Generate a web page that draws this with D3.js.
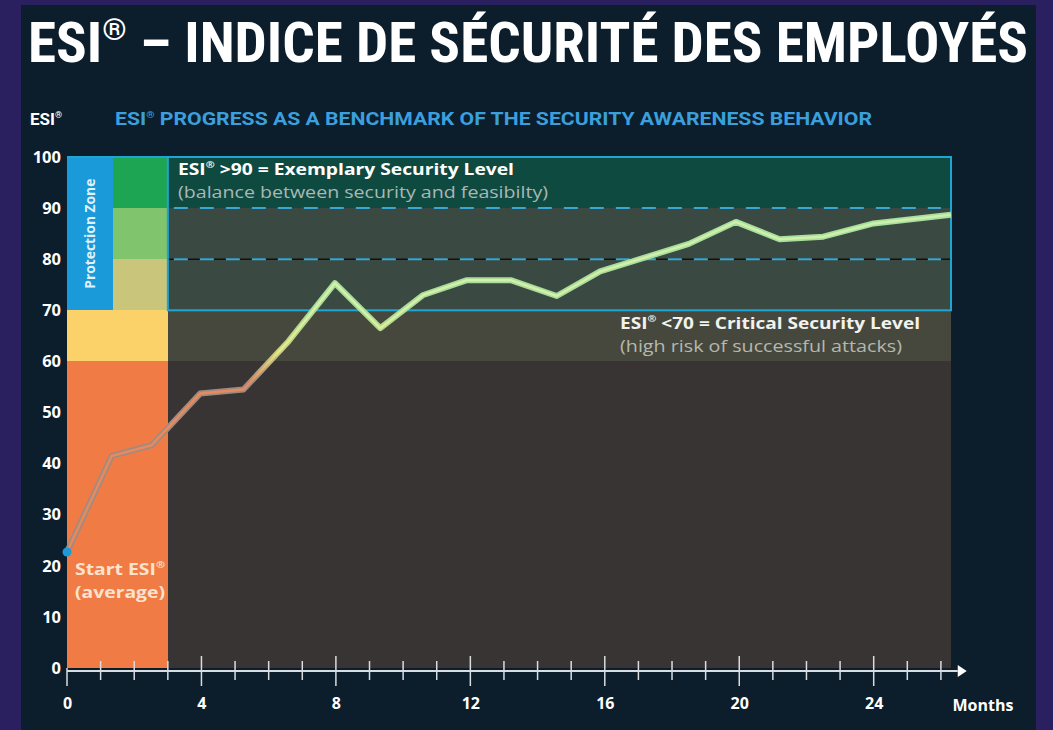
<!DOCTYPE html>
<html><head><meta charset="utf-8">
<script src="https://cdn.jsdelivr.net/npm/d3@7"></script>
<style>html,body{margin:0;padding:0;background:#2a2060;}svg{display:block;}</style>
</head><body>
<script>
// ---- data ----
const months = [0, 1.33, 2.52, 3.96, 5.25, 6.6, 7.97, 9.32, 10.6, 11.9, 13.2, 14.57, 15.86, 18.5, 19.9, 21.2, 22.5, 24.0, 26.3];
const esi    = [22.7, 41.5, 43.6, 53.7, 54.5, 64, 75.3, 66.5, 73, 75.9, 75.9, 72.8, 77.6, 83, 87.3, 83.9, 84.4, 87, 88.7];
const yTicks = [0, 10, 20, 30, 40, 50, 60, 70, 80, 90, 100];
const xTickLabels = [0, 4, 8, 12, 16, 20, 24];
const minorTicks = d3.range(1, 27);
// zones
const zoneX0 = [0, 0, 0, 1.37, 1.37, 1.37, 3, 3, 3, 3];
const zoneX1 = [3, 3, 1.37, 3, 3, 3, 26.3, 26.3, 26.3, 26.3];
const zoneY0 = [0, 60, 70, 90, 80, 70, 90, 70, 60, 0];
const zoneY1 = [60, 70, 100, 100, 90, 80, 100, 90, 70, 60];
const zoneCol = ["#f07b45", "#fbd26a", "#1a9ad9", "#1ea553", "#80c46d", "#c9c67b", "#0f4a41", "#3a4a42", "#46483e", "#393434"];
const title = "ESI® – INDICE DE SÉCURITÉ DES EMPLOYÉS";
const subtitle = "PROGRESS AS A BENCHMARK OF THE SECURITY AWARENESS BEHAVIOR";

const W = 1053, H = 730;
const svg = d3.select("body").append("svg").attr("width", W).attr("height", H);
svg.append("rect").attr("width", W).attr("height", H).attr("fill", "#2a2060");
svg.append("rect").attr("x", 21).attr("y", 5).attr("width", 1015).attr("height", H - 5).attr("fill", "#0c1d2c");

const x = d3.scaleLinear().domain([0, 26.3]).range([67, 951]);
const y = d3.scaleLinear().domain([0, 100]).range([668, 157]);

const font = "'Open Sans', 'Noto Sans', sans-serif";

// title
const t = svg.append("text").attr("x", 28).attr("y", 62)
  .attr("font-family", "'Liberation Sans Narrow', 'Roboto Condensed', Roboto, sans-serif")
  .attr("font-weight", 700).attr("font-size", 55).attr("fill", "#ffffff");
t.append("tspan").text("ESI");
t.append("tspan").attr("font-size", 30).attr("dy", -22).text("®");
t.append("tspan").attr("dy", 22).text(" " + title.split("® ")[1]);
t.attr("textLength", 1000).attr("lengthAdjust", "spacingAndGlyphs");

// subtitle row
const s1 = svg.append("text").attr("x", 30).attr("y", 125)
  .attr("font-family", "'Liberation Sans Narrow', Roboto, sans-serif").attr("font-weight", 700)
  .attr("font-size", 17).attr("fill", "#ffffff");
s1.append("tspan").text("ESI");
s1.append("tspan").attr("font-size", 9).attr("dy", -7).text("®");
const s2 = svg.append("text").attr("x", 115).attr("y", 125)
  .attr("font-family", "'Liberation Sans Narrow', Roboto, sans-serif").attr("font-weight", 700)
  .attr("font-size", 18).attr("fill", "#3b9fdc");
s2.append("tspan").text("ESI");
s2.append("tspan").attr("font-size", 9).attr("dy", -7).text("®");
s2.append("tspan").attr("dy", 7).text(" " + subtitle);
s2.attr("textLength", 757).attr("lengthAdjust", "spacingAndGlyphs");

// zones
const g = svg.append("g");
g.selectAll("rect.zone").data(zoneCol).join("rect").attr("class", "zone")
  .attr("x", (d, i) => x(zoneX0[i])).attr("width", (d, i) => x(zoneX1[i]) - x(zoneX0[i]))
  .attr("y", (d, i) => y(zoneY1[i])).attr("height", (d, i) => y(zoneY0[i]) - y(zoneY1[i]))
  .attr("fill", d => d).attr("shape-rendering", "crispEdges");

// dashed reference lines
g.append("line").attr("x1", x(3)).attr("x2", x(26.3)).attr("y1", y(80)).attr("y2", y(80))
  .attr("stroke", "#111").attr("stroke-width", 1.5);
[90, 80].forEach(v => {
  g.append("line").attr("x1", x(3) + 6).attr("x2", x(26)).attr("y1", y(v)).attr("y2", y(v))
    .attr("stroke", "#3aa6d2").attr("stroke-width", 2).attr("stroke-dasharray", "14,12");
});
// cyan box
g.append("rect").attr("x", x(3)).attr("y", y(100)).attr("width", x(26.3) - x(3)).attr("height", y(70) - y(100))
  .attr("fill", "none").attr("stroke", "#1ea6d2").attr("stroke-width", 2);
g.append("line").attr("x1", x(0)).attr("x2", x(3)).attr("y1", y(100)).attr("y2", y(100))
  .attr("stroke", "#1ea6d2").attr("stroke-width", 2);

// Protection zone label
svg.append("text").attr("transform", `translate(${x(0.68) + 5},${(y(100) + y(70)) / 2}) rotate(-90)`)
  .attr("text-anchor", "middle").attr("font-family", font).attr("font-weight", 700)
  .attr("font-size", 13.5).attr("fill", "#dff1fb").attr("textLength", 110).attr("lengthAdjust", "spacingAndGlyphs")
  .text("Protection Zone");

// annotations
function ann(xp, yp, bold, light, col1, col2, w1, w2) {
  const a = svg.append("text").attr("x", xp).attr("y", yp).attr("font-family", font)
    .attr("font-weight", 700).attr("font-size", 16).attr("fill", col1);
  a.append("tspan").text("ESI");
  a.append("tspan").attr("font-size", 9).attr("dy", -7).text("®");
  a.append("tspan").attr("dy", 7).text(bold);
  a.attr("textLength", w1).attr("lengthAdjust", "spacingAndGlyphs");
  svg.append("text").attr("x", xp).attr("y", yp + 23).attr("font-family", font)
    .attr("font-size", 16).attr("fill", col2).attr("textLength", w2).attr("lengthAdjust", "spacingAndGlyphs").text(light);
}
ann(178, 175, " >90 = Exemplary Security Level", "(balance between security and feasibilty)", "#ffffff", "#a9b8b4", 336, 370);
ann(620, 329, " <70 = Critical Security Level", "(high risk of successful attacks)", "#f2f2ee", "#b5b8ac", 300, 282);

// line gradients
const defs = svg.append("defs");
function grad(id, stops) {
  const lg = defs.append("linearGradient").attr("id", id).attr("gradientUnits", "userSpaceOnUse")
    .attr("x1", 0).attr("x2", 0).attr("y1", y(0)).attr("y2", y(100));
  stops.forEach(s => lg.append("stop").attr("offset", s[0]).attr("stop-color", s[1]));
}
grad("gOuter", [[0, "#9c8c86"], [0.56, "#a08a80"], [0.62, "#c8d27a"], [0.70, "#a8dc98"], [1, "#a8e2a0"]]);
grad("gInner", [[0, "#e8885a"], [0.56, "#e88a5e"], [0.62, "#e6ea8a"], [0.70, "#d6f0a8"], [1, "#c8eeb0"]]);

const line = d3.line().x((d, i) => x(months[i])).y(d => y(d));
svg.append("path").attr("d", line(esi)).attr("fill", "none").attr("stroke", "url(#gOuter)")
  .attr("stroke-width", 6).attr("stroke-linejoin", "round");
svg.append("path").attr("d", line(esi)).attr("fill", "none").attr("stroke", "url(#gInner)")
  .attr("stroke-width", 2.5).attr("stroke-linejoin", "round");
svg.append("circle").attr("cx", x(months[0])).attr("cy", y(esi[0])).attr("r", 4.5).attr("fill", "#1a9ad9");

// start label
const st = svg.append("text").attr("x", 75).attr("y", 575).attr("font-family", font)
  .attr("font-weight", 700).attr("font-size", 16).attr("fill", "#fde3cf");
st.append("tspan").text("Start ESI");
st.append("tspan").attr("font-size", 9).attr("dy", -7).text("®");
st.attr("textLength", 90).attr("lengthAdjust", "spacingAndGlyphs");
svg.append("text").attr("x", 75).attr("y", 598).attr("font-family", font)
  .attr("font-weight", 700).attr("font-size", 16).attr("fill", "#fde3cf")
  .attr("textLength", 90).attr("lengthAdjust", "spacingAndGlyphs").text("(average)");

// y axis labels
const yAxis = d3.axisLeft(y).tickValues(yTicks).tickSize(0).tickPadding(5);
const ya = svg.append("g").attr("transform", "translate(66,0)").call(yAxis);
ya.select(".domain").remove();
ya.selectAll("text").attr("font-family", font).attr("font-weight", 700).attr("font-size", 16.5).attr("fill", "#ffffff");

// x axis
const ax = svg.append("g");
ax.append("line").attr("x1", x(0)).attr("x2", x(26.5)).attr("y1", 671).attr("y2", 671)
  .attr("stroke", "#d8dde2").attr("stroke-width", 2);
ax.append("path").attr("d", `M${x(26.5)},665 L${x(26.5) + 9},671 L${x(26.5)},677 Z`).attr("fill", "#ffffff");
ax.selectAll("line.minor").data(minorTicks).join("line").attr("class", "minor")
  .attr("x1", d => x(d)).attr("x2", d => x(d))
  .attr("y1", d => d % 4 === 0 ? 656 : 661).attr("y2", d => d % 4 === 0 ? 686 : 680)
  .attr("stroke", "#d8dde2").attr("stroke-width", 1.5);
ax.append("line").attr("x1", x(0)).attr("x2", x(0)).attr("y1", 668).attr("y2", 686)
  .attr("stroke", "#d8dde2").attr("stroke-width", 1.5);
const xAxis = d3.axisBottom(x).tickValues(xTickLabels).tickSize(0).tickPadding(0);
const xa = svg.append("g").attr("transform", "translate(0,698)").call(xAxis);
xa.select(".domain").remove();
xa.selectAll("text").attr("font-family", font).attr("font-weight", 700).attr("font-size", 16).attr("fill", "#ffffff").attr("dy", "0.71em");
svg.append("text").attr("x", 983).attr("y", 711).attr("text-anchor", "middle").attr("font-family", font)
  .attr("font-weight", 700).attr("font-size", 16).attr("fill", "#ffffff").text("Months");
</script>
</body></html>
